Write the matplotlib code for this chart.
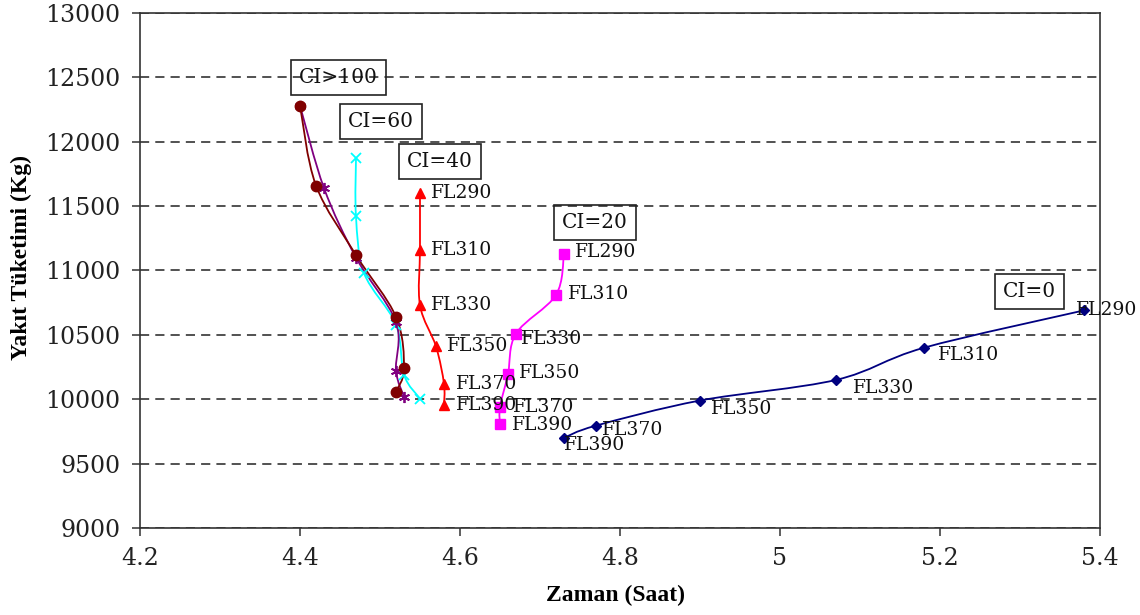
import numpy as np
import matplotlib
matplotlib.use('Agg')
import matplotlib.pyplot as plt
from matplotlib.path import Path
from matplotlib.patches import PathPatch

""" Data (read from the picture) """
levels = ['FL290', 'FL310', 'FL330', 'FL350', 'FL370', 'FL390']

ci0_t = [5.38, 5.18, 5.07, 4.90, 4.77, 4.73]
ci0_f = [10690, 10400, 10150, 9990, 9795, 9700]

ci20_t = [4.73, 4.72, 4.67, 4.66, 4.65, 4.65]
ci20_f = [11130, 10810, 10510, 10195, 9940, 9805]

ci40_t = [4.55, 4.55, 4.55, 4.57, 4.58, 4.58]
ci40_f = [11600, 11160, 10730, 10410, 10120, 9955]

ci60_t = [4.47, 4.47, 4.48, 4.52, 4.53, 4.55]
ci60_f = [11870, 11420, 10980, 10580, 10190, 10005]

ci80_t = [4.40, 4.43, 4.47, 4.52, 4.52, 4.53]
ci80_f = [12280, 11640, 11100, 10600, 10220, 10020]

ci100_t = [4.40, 4.42, 4.47, 4.52, 4.53, 4.52]
ci100_f = [12280, 11660, 11120, 10640, 10240, 10055]

# CI text boxes: label, left of text (x), centre (y)
ci_names = ['CI>100', 'CI=60', 'CI=40', 'CI=20', 'CI=0']
ci_x = [4.399, 4.46, 4.534, 4.7275, 5.279]
ci_y = [12500, 12160, 11845, 11375, 10840]

# FL label offsets in pixels (dx right, dy down)
ci0_off = [(-8, 0), (14, 7), (17, 8), (11, 8), (6, 4), (0, 7)]
ci20_off = [(11, -2), (12, -1), (5, 5), (11, -1), (13, 0), (12, 1)]
ci40_off = [(11, 0), (11, 0), (11, 0), (11, 0), (12, 0), (12, 0)]


def smooth_line(ax, xs, ys, color):
    # excel-like smoothed line: catmull-rom as cubic bezier segments
    p = np.column_stack([xs, ys]).astype(float)
    n = len(p)
    verts = [p[0]]
    codes = [Path.MOVETO]
    for i in range(n - 1):
        p0 = p[i - 1] if i > 0 else p[i]
        p3 = p[i + 2] if i + 2 < n else p[i + 1]
        c1 = p[i] + (p[i + 1] - p0) / 6.0
        c2 = p[i + 1] - (p3 - p[i]) / 6.0
        verts += [c1, c2, p[i + 1]]
        codes += [Path.CURVE4] * 3
    ax.add_patch(PathPatch(Path(verts, codes), fill=False, edgecolor=color, lw=1.3, zorder=2))


fig = plt.figure(figsize=(11.4, 6.15), dpi=100)
ax = fig.add_axes([0.1228, 0.1415, 0.8421, 0.8374])

series = [
    (ci0_t, ci0_f, '#000080', 'D', 5.5),
    (ci20_t, ci20_f, '#FF00FF', 's', 7),
    (ci40_t, ci40_f, '#FF0000', '^', 7.5),
    (ci60_t, ci60_f, '#00FFFF', 'x', 7),
    (ci80_t, ci80_f, '#800080', (6, 2, 0), 8),
    (ci100_t, ci100_f, '#800000', 'o', 7.5),
]
for t, f, c, m, ms in series:
    smooth_line(ax, t, f, c)
    mew = 1.3 if m in ('x',) or isinstance(m, tuple) else 1
    ax.plot(t, f, linestyle='none', marker=m, ms=ms, color=c, mec=c, mew=mew, zorder=3)

for t, f, offs in [(ci0_t, ci0_f, ci0_off), (ci20_t, ci20_f, ci20_off), (ci40_t, ci40_f, ci40_off)]:
    for lab, xv, yv, (dx, dy) in zip(levels, t, f, offs):
        ax.annotate(lab, (xv, yv), xytext=(dx, -dy), textcoords='offset pixels',
                    ha='left', va='center', fontsize=13.5, family='DejaVu Serif',
                    color='#111111', zorder=4)

for name, xv, yv in zip(ci_names, ci_x, ci_y):
    ax.text(xv, yv, name, ha='left', va='center', fontsize=14.5, family='DejaVu Serif',
            color='#111111', zorder=4,
            bbox=dict(boxstyle='square,pad=0.4', facecolor='none', edgecolor='#222222', lw=1.2))

ax.set_xlim(4.2, 5.4)
ax.set_ylim(9000, 13000)
ax.set_xticks([4.2, 4.4, 4.6, 4.8, 5.0, 5.2, 5.4])
ax.set_xticklabels(['4.2', '4.4', '4.6', '4.8', '5', '5.2', '5.4'])
ax.set_yticks(np.arange(9000, 13001, 500))
ax.yaxis.grid(True, linestyle=(0, (6, 4)), color='#222222', lw=1.1)
ax.set_axisbelow(True)

for s in ax.spines.values():
    s.set_color('#333333')
    s.set_linewidth(1.2)
ax.tick_params(direction='out', length=6, width=1.1, color='#333333', pad=8)
for lab in ax.get_xticklabels() + ax.get_yticklabels():
    lab.set_family('DejaVu Serif')
    lab.set_fontsize(17)
    lab.set_color('#222222')

ax.set_xlabel('Zaman (Saat)', family='Liberation Serif', fontweight='bold', fontsize=17)
ax.set_ylabel('Yakıt Tüketimi (Kg)', family='Liberation Serif', fontweight='bold', fontsize=17)
ax.xaxis.set_label_coords(0.495, -0.11)
ax.yaxis.set_label_coords(-0.112, 0.526)

plt.savefig('out.png', dpi=100)
